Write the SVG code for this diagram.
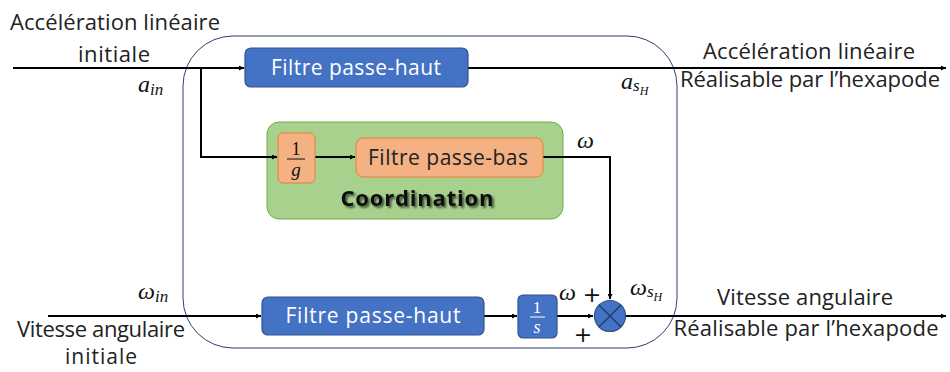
<svg xmlns="http://www.w3.org/2000/svg" width="950" height="372" viewBox="0 0 950 372">
<defs>
<marker id="ah" viewBox="0 0 10 10" refX="10" refY="5" markerWidth="5" markerHeight="5" orient="auto" markerUnits="userSpaceOnUse"><path d="M0,0 L10,5 L0,10 z" fill="#000"/></marker>
<filter id="sh" x="-10%" y="-30%" width="120%" height="160%">
<feGaussianBlur in="SourceAlpha" stdDeviation="1.3"/>
<feOffset dx="1.5" dy="1.5" result="b"/>
<feComponentTransfer in="b" result="c"><feFuncA type="linear" slope="0.6"/></feComponentTransfer>
<feMerge><feMergeNode in="c"/><feMergeNode in="SourceGraphic"/></feMerge>
</filter>
<style>
.t{font-family:"Open Sans","Liberation Sans",sans-serif;font-size:22px;fill:#222;}
.w{font-family:"Open Sans","Liberation Sans",sans-serif;font-size:21px;fill:#fff;}
.m{font-family:"Liberation Serif","DejaVu Serif",serif;font-style:italic;font-size:24px;fill:#111;}
.ms{font-family:"Liberation Serif","DejaVu Serif",serif;font-style:italic;font-size:17px;fill:#111;}
.mss{font-family:"Liberation Serif","DejaVu Serif",serif;font-style:italic;font-size:12px;fill:#111;}
.blue{fill:#4472C4;stroke:#2F528F;stroke-width:1.2;}
.or{fill:#F4B183;stroke:#ED7D31;stroke-width:1;}
.ln{fill:none;stroke:#000;stroke-width:2;}
.cb{font-family:"Open Sans","Liberation Sans",sans-serif;font-weight:bold;font-size:22px;}
.pl{font-family:"DejaVu Sans",sans-serif;font-size:22px;fill:#111;}
</style>
</defs>
<rect x="0" y="0" width="950" height="372" fill="#fff"/>
<g id="frame"><rect x="183" y="36" width="494" height="312" rx="50" ry="50" fill="none" stroke="#2F3F6F" stroke-width="1"/></g>
<g id="coordination">
<rect x="267" y="122" width="296" height="97" rx="12" fill="#A9D18E" stroke="#70AD47" stroke-width="1"/>
<text class="cb" x="417" y="206" text-anchor="middle" textLength="153" fill="#111" filter="url(#sh)">Coordination</text>
</g>
<g id="connectors">
<line class="ln" x1="13" y1="68" x2="244" y2="68" marker-end="url(#ah)"/>
<line class="ln" x1="468" y1="68" x2="946" y2="68" marker-end="url(#ah)"/>
<polyline class="ln" points="201,68 201,157 277,157" marker-end="url(#ah)"/>
<line class="ln" x1="315" y1="157" x2="355" y2="157" marker-end="url(#ah)"/>
<polyline class="ln" points="543,157 610,157 610,299" marker-end="url(#ah)"/>
<line class="ln" x1="48" y1="316" x2="261" y2="316" marker-end="url(#ah)"/>
<line class="ln" x1="484" y1="316" x2="517" y2="316" marker-end="url(#ah)"/>
<line class="ln" x1="557" y1="316" x2="593" y2="316" marker-end="url(#ah)"/>
<line class="ln" x1="626" y1="316" x2="946" y2="316" marker-end="url(#ah)"/>
</g>
<g id="hp1"><rect class="blue" x="245" y="48" width="223" height="39" rx="6"/><text class="w" x="356" y="75" text-anchor="middle" textLength="170">Filtre passe-haut</text></g>
<g id="inv-g"><rect class="or" x="278" y="133" width="37" height="50" rx="5"/>
<text x="296" y="155" text-anchor="middle" style="font-family:'Liberation Serif',serif;font-size:18px;fill:#111;">1</text>
<line x1="287" y1="159" x2="305" y2="159" stroke="#111" stroke-width="1"/>
<text x="296" y="176" text-anchor="middle" style="font-family:'Liberation Serif',serif;font-style:italic;font-size:19px;fill:#111;">g</text></g>
<g id="pb"><rect class="or" x="356" y="138" width="187" height="39" rx="7"/><text x="448" y="165" text-anchor="middle" class="t" style="font-size:21px" textLength="160">Filtre passe-bas</text></g>
<g id="hp2"><rect class="blue" x="262" y="297" width="222" height="38" rx="6"/><text class="w" x="373" y="323" text-anchor="middle" textLength="175">Filtre passe-haut</text></g>
<g id="inv-s"><rect class="blue" x="518" y="295" width="39" height="43" rx="5"/>
<text x="537" y="313" text-anchor="middle" style="font-family:'Liberation Serif',serif;font-size:17px;fill:#fff;">1</text>
<line x1="530" y1="317" x2="545" y2="317" stroke="#fff" stroke-width="1"/>
<text x="537" y="333" text-anchor="middle" style="font-family:'Liberation Serif',serif;font-style:italic;font-size:18px;fill:#fff;">s</text></g>
<g id="sum"><circle cx="610" cy="316" r="15.5" fill="#4472C4" stroke="#2F528F" stroke-width="1.2"/>
<line x1="599" y1="305" x2="621" y2="327" stroke="#1F3864" stroke-width="1.2"/><line x1="621" y1="305" x2="599" y2="327" stroke="#1F3864" stroke-width="1.2"/></g>
<g id="labels">
<text class="t" x="115" y="30" text-anchor="middle" textLength="210">Accélération linéaire</text>
<text class="t" x="114" y="62" text-anchor="middle" textLength="72">initiale</text>
<text class="m" x="138" y="92">a<tspan class="ms" dy="3">in</tspan></text>
<text class="m" x="621" y="89">a<tspan class="ms" dy="2">s</tspan><tspan class="mss" dy="4">H</tspan></text>
<text class="t" x="809" y="59" text-anchor="middle" textLength="212">Accélération linéaire</text>
<text class="t" x="810" y="87" text-anchor="middle" textLength="260">Réalisable par l’hexapode</text>
<text class="m" x="577" y="148">ω</text>
<text class="m" x="138" y="299">ω<tspan class="ms" dy="3">in</tspan></text>
<text class="t" x="101" y="337" text-anchor="middle" textLength="168">Vitesse angulaire</text>
<text class="t" x="101" y="364" text-anchor="middle" style="font-size:21px" textLength="72">initiale</text>
<text class="m" x="559" y="300">ω</text>
<text class="pl" x="592" y="302" text-anchor="middle">+</text>
<text class="pl" x="583" y="342" text-anchor="middle">+</text>
<text class="m" x="630" y="295">ω<tspan class="ms" dy="2">s</tspan><tspan class="mss" dy="4">H</tspan></text>
<text class="t" x="805" y="305" text-anchor="middle" textLength="176">Vitesse angulaire</text>
<text class="t" x="806" y="336" text-anchor="middle" textLength="265">Réalisable par l’hexapode</text>
</g>
</svg>
